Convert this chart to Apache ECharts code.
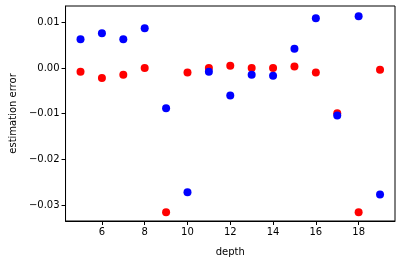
<!DOCTYPE html>
<html><head><meta charset="utf-8">
<script src="https://cdn.jsdelivr.net/npm/echarts@6/dist/echarts.min.js"></script>
<style>html,body{margin:0;padding:0;background:#fff}#c{width:400px;height:262px}</style>
</head><body><div id="c"></div>
<script>
const depths = [5,6,7,8,9,10,11,12,13,14,15,16,17,18,19];
const blueErr = [0.0063,0.0076,0.0063,0.0087,-0.0088,-0.0272,-0.0008,-0.0060,-0.0015,-0.0017,0.0042,0.0109,-0.0104,0.0113,-0.0277];
const redErr = [-0.0008,-0.0022,-0.0015,0.0000,-0.0316,-0.0010,0.0000,0.0005,0.0000,0.0000,0.0003,-0.0010,-0.0099,-0.0316,-0.0004];
const xTicks = [6,8,10,12,14,16,18];
const yTicks = [-0.03,-0.02,-0.01,0.00,0.01];

const chart = echarts.init(document.getElementById('c'), null, {renderer:'canvas'});
const font = 'DejaVu Sans';
const fmtY = v => v.toFixed(2).replace('-', '\u2212');
chart.setOption({
  animation:false,
  grid:{left:59,top:6,right:5,bottom:38,show:true,borderColor:'#000',borderWidth:1},
  xAxis:{type:'value',min:4.3,max:19.7,name:'depth',nameLocation:'middle',nameGap:26,
    nameTextStyle:{fontFamily:font,fontSize:10,color:'#000'},
    axisLine:{show:true,onZero:false,lineStyle:{color:'#000'}},
    axisTick:{show:true,inside:false,length:4,lineStyle:{color:'#000'},customValues:xTicks},
    axisLabel:{fontFamily:font,fontSize:10,color:'#000',margin:6,customValues:xTicks},
    splitLine:{show:false}},
  yAxis:{type:'value',min:-0.0335,max:0.01357,name:'estimation error',nameLocation:'middle',nameGap:46,
    nameTextStyle:{fontFamily:font,fontSize:10,color:'#000'},
    axisLine:{show:true,onZero:false,lineStyle:{color:'#000'}},
    axisTick:{show:true,inside:false,length:4,lineStyle:{color:'#000'},customValues:yTicks},
    axisLabel:{fontFamily:font,fontSize:10,color:'#000',margin:6,customValues:yTicks,formatter:fmtY},
    splitLine:{show:false}},
  series:[
    {type:'scatter',symbolSize:8,itemStyle:{color:'#ff0000',opacity:1},data:depths.map((d,i)=>[d,redErr[i]])},
    {type:'scatter',symbolSize:8,itemStyle:{color:'#0000ff',opacity:1},data:depths.map((d,i)=>[d,blueErr[i]])}
  ]
});
</script></body></html>
